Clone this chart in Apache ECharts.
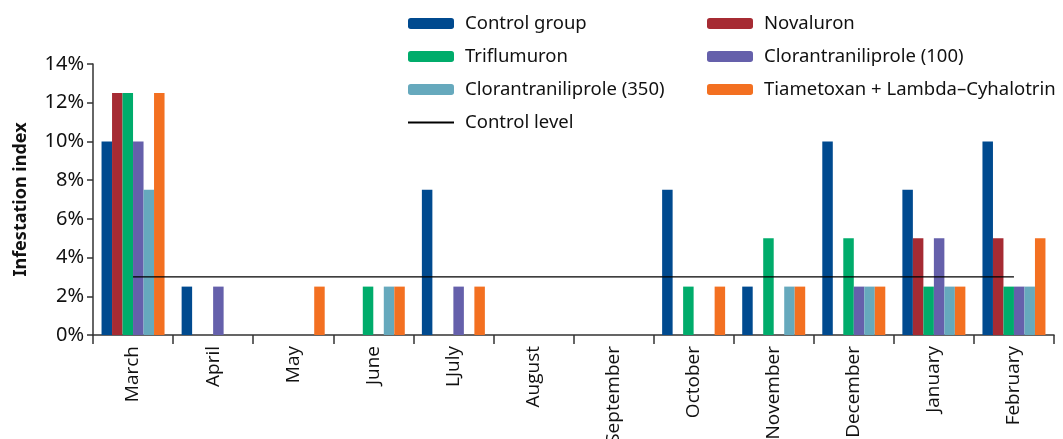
<!DOCTYPE html>
<html>
<head>
<meta charset="utf-8">
<script src="https://cdn.jsdelivr.net/npm/echarts@6/dist/echarts.min.js"></script>
<style>html,body{margin:0;padding:0;background:#fff}#c{width:1063px;height:439px}</style>
</head>
<body>
<div id="c"></div>
<script>
const months = ["March","April","May","June","LJuly","August","September","October","November","December","January","February"];
const controlGroup   = [10, 2.5, 0, 0, 7.5, 0, 0, 7.5, 2.5, 10, 7.5, 10];
const novaluron      = [12.5, 0, 0, 0, 0, 0, 0, 0, 0, 0, 5, 5];
const triflumuron    = [12.5, 0, 0, 2.5, 0, 0, 0, 2.5, 5, 5, 2.5, 2.5];
const cloran100      = [10, 2.5, 0, 0, 2.5, 0, 0, 0, 0, 2.5, 5, 2.5];
const cloran350      = [7.5, 0, 0, 2.5, 0, 0, 0, 0, 2.5, 2.5, 2.5, 2.5];
const tiametoxan     = [12.5, 0, 2.5, 2.5, 2.5, 0, 0, 2.5, 2.5, 2.5, 2.5, 5];
const controlLevel   = [3, 3, 3, 3, 3, 3, 3, 3, 3, 3, 3, 3];
const yTicks = [0, 2, 4, 6, 8, 10, 12, 14];

const names = ["Control group","Novaluron","Triflumuron","Clorantraniliprole (100)","Clorantraniliprole (350)","Tiametoxan + Lambda\u2013Cyhalotrin"];
const colors = ["#004a8f","#a62b33","#00ac6b","#6560ab","#66a9bd","#f37021"];
const datas = [controlGroup, novaluron, triflumuron, cloran100, cloran350, tiametoxan];

const font = "Noto Sans";
const series = datas.map((d,i)=>({
  name: names[i], type: 'bar', data: d, barWidth: 10.5, barGap: '0%',
  itemStyle: {color: colors[i]}
}));
series.push({
  name: "Control level", type: 'line', data: controlLevel, symbol: 'none', showSymbol: false,
  lineStyle: {color: '#000', width: 1.3}, itemStyle: {color: '#000'}
});

const legendText = {fontFamily: font, fontSize: 18.5, color: '#111', padding: [0,0,0,6]};
const chart = echarts.init(document.getElementById('c'));
chart.setOption({
  animation: false,
  textStyle: {fontFamily: font},
  legend: [
    {data: ["Control group","Triflumuron","Clorantraniliprole (350)",{name: "Control level", itemStyle: {opacity: 0}}],
     orient: 'vertical', left: 402, top: 9, itemWidth: 46, itemHeight: 11, itemGap: 14,
     textStyle: legendText},
    {data: ["Novaluron","Clorantraniliprole (100)","Tiametoxan + Lambda\u2013Cyhalotrin"],
     orient: 'vertical', left: 702, top: 9, itemWidth: 46, itemHeight: 11, itemGap: 14,
     textStyle: legendText}
  ],
  grid: {left: 93, right: 9, top: 64, bottom: 104, containLabel: false, outerBoundsMode: 'none'},
  xAxis: {
    type: 'category', data: months,
    axisLine: {lineStyle: {color: '#333', width: 1.5}},
    axisTick: {show: true, alignWithLabel: false, length: 9, lineStyle: {color: '#333', width: 1.5}},
    axisLabel: {rotate: 90, margin: 11, fontFamily: "Open Sans", fontSize: 19, color: '#111', interval: 0}
  },
  yAxis: {
    type: 'value', min: 0, max: 14, interval: 2,
    name: 'Infestation index', nameLocation: 'middle', nameGap: 63,
    nameTextStyle: {fontFamily: font, fontSize: 18, fontWeight: 'bold', color: '#111'},
    axisLine: {show: true, lineStyle: {color: '#333', width: 1.5}},
    axisTick: {show: true, length: 6, lineStyle: {color: '#333', width: 1.5}},
    splitLine: {show: false},
    axisLabel: {formatter: v => yTicks.includes(v) ? v + '%' : '', fontFamily: font, fontSize: 20, color: '#111', margin: 9}
  },
  series: series
});
</script>
</body>
</html>
